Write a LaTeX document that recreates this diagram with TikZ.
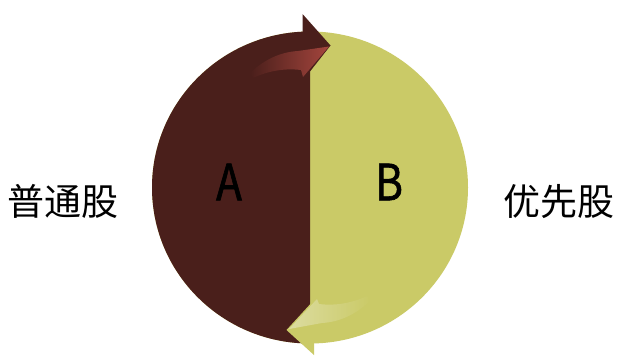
\documentclass[tikz,border=0pt]{standalone}
\usepackage{fontspec}
\newfontfamily\cjk{Noto Sans CJK SC}
\newfontfamily\letterfont[FakeStretch=0.85,FakeBold=1.2]{Noto Sans CJK SC}
\usetikzlibrary{positioning}
\definecolor{stockdark}{HTML}{4A1F1B}
\definecolor{stockred}{HTML}{A4453D}
\definecolor{stocklight}{HTML}{CACA67}
\definecolor{stockpale}{HTML}{DCDCA0}
\tikzset{
  halflabel/.style={inner sep=0pt,font=\letterfont\fontsize{50}{54}\selectfont,text=black},
  sidelabel/.style={inner sep=0pt,font=\cjk\fontsize{37}{40}\selectfont,text=black}
}
\begin{document}
\begin{tikzpicture}[x=1pt,y=-1pt]
\useasboundingbox[fill=white] (0,0) rectangle (620,356);
% right half (light) and left half (dark)
\fill[stocklight] (310,187.5) ellipse (158 and 156);
\begin{scope}
\clip (0,0) rectangle (310,356);
\fill[stockdark] (310,187.5) ellipse (158 and 156);
\end{scope}
% arrow heads
\fill[stockdark] (302.5,14) -- (330.5,45.5) -- (302.5,81) -- cycle;
\fill[stocklight] (314,355) -- (286.5,330) -- (314,300) -- cycle;
% highlights
\shade[left color=stockdark,right color=stockred] (250,73) .. controls (266,58) and (282,52) .. (298,51) -- (329,46.5) -- (303,77) -- (301,70) .. controls (284,68) and (268,71) .. (253,78) -- cycle;
\shade[left color=stockpale,right color=stocklight] (370,301) .. controls (354,316) and (338,322) .. (322,323) -- (289,329) -- (317,299) -- (319,304) .. controls (336,306) and (352,303) .. (367,296) -- cycle;
% labels
\node[halflabel] (labelA) at (229,182) {A};
\node[halflabel] (labelB) at (389,182) {B};
\node[sidelabel] (common) at (62.5,201) {普通股};
\node[sidelabel] (preferred) at (559,202) {优先股};
\end{tikzpicture}
\end{document}
